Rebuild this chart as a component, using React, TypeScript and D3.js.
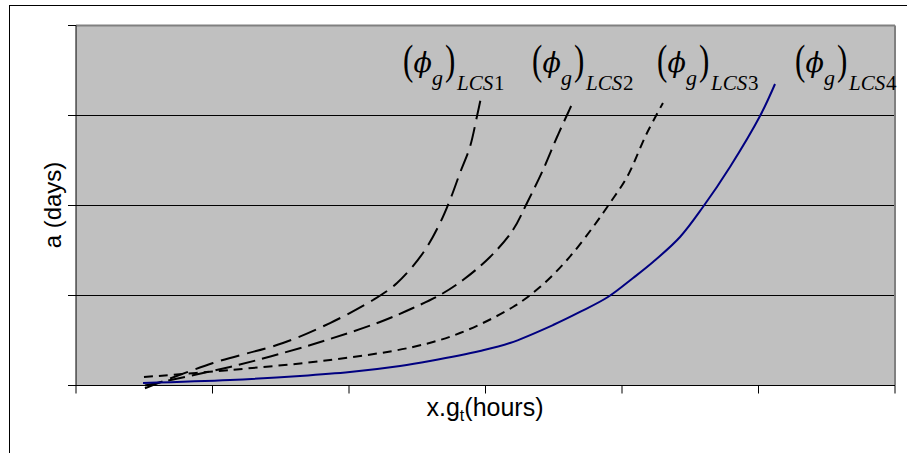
import React from "react";
import * as d3 from "d3";

// x in tick units (6 intervals), y in gridline units (4 intervals)
const xTicks = [0, 1, 2, 3, 4, 5, 6];
const yTicks = [0, 1, 2, 3, 4];

const lcs1X = [0.505, 1.004, 1.516, 1.861, 2.176, 2.352, 2.542, 2.667, 2.74, 2.813, 2.886, 2.938, 2.974];
const lcs1Y = [-0.03, 0.25, 0.472, 0.694, 0.95, 1.139, 1.472, 1.806, 2.061, 2.361, 2.65, 2.994, 3.25];

const lcs2X = [0.505, 1.128, 1.516, 1.861, 2.227, 2.469, 2.667, 2.835, 3.033, 3.201, 3.304, 3.421, 3.524, 3.604, 3.641];
const lcs2Y = [0.0, 0.206, 0.361, 0.517, 0.706, 0.861, 1.006, 1.172, 1.428, 1.728, 2.028, 2.394, 2.761, 3.028, 3.15];

const lcs3X = [0.498, 1.128, 1.861, 2.469, 2.813, 3.201, 3.399, 3.597, 3.788, 3.912, 4.037, 4.183, 4.3];
const lcs3Y = [0.094, 0.172, 0.283, 0.428, 0.583, 0.872, 1.094, 1.394, 1.761, 2.028, 2.317, 2.806, 3.139];

const lcs4X = [0.491, 1.128, 1.641, 2.007, 2.374, 2.593, 2.96, 3.179, 3.495, 3.692, 3.897, 4.081, 4.227, 4.425, 4.593, 4.791, 5.011, 5.121];
const lcs4Y = [0.028, 0.061, 0.106, 0.15, 0.217, 0.272, 0.383, 0.472, 0.672, 0.817, 0.983, 1.194, 1.372, 1.65, 1.983, 2.428, 2.994, 3.35];

const labelNames = ["1", "2", "3", "4"];
const labelX = [403, 532, 657, 795];

const W = 907;
const H = 453;
const plot = { left: 76, right: 895, top: 25.5, bottom: 385.5 };

const series = [
  { xs: lcs1X, ys: lcs1Y, color: "#000", dash: "19,8", width: 2 },
  { xs: lcs2X, ys: lcs2Y, color: "#000", dash: "17,7", width: 2 },
  { xs: lcs3X, ys: lcs3Y, color: "#000", dash: "9,6", width: 2 },
  { xs: lcs4X, ys: lcs4Y, color: "#000080", dash: null, width: 2 },
];

export default function App() {
  const x = d3.scaleLinear().domain([0, 6]).range([plot.left, plot.right]);
  const y = d3.scaleLinear().domain([0, 4]).range([plot.bottom, plot.top]);
  const line = d3
    .line<[number, number]>()
    .x((d) => x(d[0]))
    .y((d) => y(d[1]))
    .curve(d3.curveCatmullRom.alpha(0.5));

  const serif = "'Liberation Serif', 'Times New Roman', serif";
  const sans = "'Liberation Sans', Arial, sans-serif";

  return (
    <svg
      width={W}
      height={H}
      style={{ position: "absolute", left: 0, top: 0, background: "#fff", overflow: "hidden" }}
    >
      <line x1={9.5} x2={9.5} y1={5} y2={H} stroke="#000" strokeWidth={1} />
      <line x1={9} x2={W} y1={5.5} y2={5.5} stroke="#000" strokeWidth={1} />
      <rect
        x={plot.left}
        y={plot.top}
        width={plot.right - plot.left}
        height={plot.bottom - plot.top}
        fill="#c0c0c0"
      />
      {yTicks.slice(1, 4).map((t) => (
        <line key={"g" + t} x1={plot.left} x2={plot.right} y1={y(t)} y2={y(t)} stroke="#000" strokeWidth={1} />
      ))}
      <line x1={plot.left} x2={plot.right} y1={plot.top} y2={plot.top} stroke="#808080" strokeWidth={2} />
      <line x1={plot.right} x2={plot.right} y1={plot.top} y2={plot.bottom} stroke="#808080" strokeWidth={2} />
      {series.map((s, i) => (
        <path
          key={i}
          d={line(s.xs.map((v, j) => [v, s.ys[j]] as [number, number])) || ""}
          fill="none"
          stroke={s.color}
          strokeWidth={s.width}
          strokeDasharray={s.dash || undefined}
        />
      ))}
      {/* axes */}
      <line x1={plot.left} x2={plot.left} y1={plot.top} y2={plot.bottom} stroke="#000" strokeWidth={1} />
      <line x1={plot.left} x2={plot.right} y1={plot.bottom} y2={plot.bottom} stroke="#000" strokeWidth={1} />
      {yTicks.map((t) => (
        <line key={"yt" + t} x1={plot.left - 8} x2={plot.left} y1={y(t)} y2={y(t)} stroke="#000" strokeWidth={1} />
      ))}
      {xTicks.map((t) => (
        <line key={"xt" + t} x1={x(t)} x2={x(t)} y1={plot.bottom} y2={plot.bottom + 8} stroke="#000" strokeWidth={1} />
      ))}
      {/* labels */}
      {labelNames.map((n, i) => {
        const x0 = labelX[i];
        return (
          <g key={"lab" + i} fill="#000">
            <text transform={`translate(${x0},74) scale(1,1.35)`} fontFamily={serif} fontSize={31}>(</text>
            <text x={x0 + 10.5} y={72} fontFamily="'DejaVu Serif', serif" fontSize={27} fontStyle="italic">ϕ</text>
            <text x={x0 + 29} y={85} fontFamily={serif} fontSize={22} fontStyle="italic">g</text>
            <text transform={`translate(${x0 + 42},74) scale(1,1.35)`} fontFamily={serif} fontSize={31}>)</text>
            <text x={x0 + 54} y={90} fontFamily={serif} fontSize={21} fontStyle="italic">LCS</text>
            <text x={x0 + 91} y={90} fontFamily={serif} fontSize={21}>{n}</text>
          </g>
        );
      })}
      <text
        x={485}
        y={416}
        textAnchor="middle"
        fontFamily={sans}
        fontSize={25}
        fill="#000"
      >
        x.g<tspan fontSize={16} dy={5}>t</tspan>
        <tspan dy={-5}>(hours)</tspan>
      </text>
      <text
        transform="translate(61,205) rotate(-90)"
        textAnchor="middle"
        fontFamily={sans}
        fontSize={24}
        fill="#000"
      >
        a (days)
      </text>
    </svg>
  );
}
